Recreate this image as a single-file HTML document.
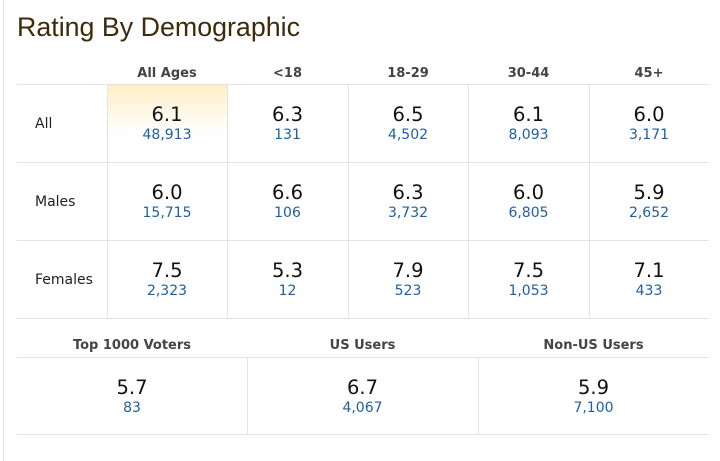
<!DOCTYPE html>
<html><head><meta charset="utf-8"><style>
body{margin:0;width:720px;height:461px;background:#fff;position:relative;overflow:hidden;font-family:"Liberation Sans",sans-serif}
.a{position:absolute}
.vb{position:absolute;left:3px;top:0;width:1px;height:461px;background:#e6e6e6}
.t{left:17px;top:12px;font-size:26.8px;color:#3f2a0a}
.h{font-family:"DejaVu Sans",sans-serif;font-weight:bold;font-size:13px;color:#444;text-align:center}
.hl{height:1px;background:#e3e3e3}
.vl{width:1px;background:#e3e3e3}
.c{text-align:center;font-family:"DejaVu Sans",sans-serif}
.r{font-size:19.5px;color:#111;line-height:22px}
.n{font-size:14px;color:#1f5fa0;line-height:19px}
.lb{font-family:"DejaVu Sans",sans-serif;font-size:14px;color:#222}
</style></head><body>
<div class="vb"></div>
<div class="a t">Rating By Demographic</div>
<div class="a" style="left:108px;top:85px;width:119px;height:50px;background:linear-gradient(#fdefc8,#fff)"></div>
<div class="a h" style="left:107px;top:66px;width:120px">All Ages</div>
<div class="a h" style="left:227px;top:66px;width:121px">&lt;18</div>
<div class="a h" style="left:348px;top:66px;width:120px">18-29</div>
<div class="a h" style="left:468px;top:66px;width:121px">30-44</div>
<div class="a h" style="left:589px;top:66px;width:120px">45+</div>
<div class="a hl" style="left:17px;top:84px;width:692px"></div>
<div class="a hl" style="left:17px;top:162px;width:692px"></div>
<div class="a hl" style="left:17px;top:240px;width:692px"></div>
<div class="a hl" style="left:17px;top:318px;width:692px"></div>
<div class="a vl" style="left:107px;top:84px;height:234px"></div>
<div class="a vl" style="left:227px;top:84px;height:234px"></div>
<div class="a vl" style="left:348px;top:84px;height:234px"></div>
<div class="a vl" style="left:468px;top:84px;height:234px"></div>
<div class="a vl" style="left:589px;top:84px;height:234px"></div>
<div class="a lb" style="left:35px;top:116px">All</div>
<div class="a lb" style="left:35px;top:194px">Males</div>
<div class="a lb" style="left:35px;top:272px">Females</div>

<div class="a c" style="left:107px;top:104px;width:120px"><div class="r">6.1</div><div class="n">48,913</div></div>
<div class="a c" style="left:227px;top:104px;width:121px"><div class="r">6.3</div><div class="n">131</div></div>
<div class="a c" style="left:348px;top:104px;width:120px"><div class="r">6.5</div><div class="n">4,502</div></div>
<div class="a c" style="left:468px;top:104px;width:121px"><div class="r">6.1</div><div class="n">8,093</div></div>
<div class="a c" style="left:589px;top:104px;width:120px"><div class="r">6.0</div><div class="n">3,171</div></div>

<div class="a c" style="left:107px;top:182px;width:120px"><div class="r">6.0</div><div class="n">15,715</div></div>
<div class="a c" style="left:227px;top:182px;width:121px"><div class="r">6.6</div><div class="n">106</div></div>
<div class="a c" style="left:348px;top:182px;width:120px"><div class="r">6.3</div><div class="n">3,732</div></div>
<div class="a c" style="left:468px;top:182px;width:121px"><div class="r">6.0</div><div class="n">6,805</div></div>
<div class="a c" style="left:589px;top:182px;width:120px"><div class="r">5.9</div><div class="n">2,652</div></div>

<div class="a c" style="left:107px;top:260px;width:120px"><div class="r">7.5</div><div class="n">2,323</div></div>
<div class="a c" style="left:227px;top:260px;width:121px"><div class="r">5.3</div><div class="n">12</div></div>
<div class="a c" style="left:348px;top:260px;width:120px"><div class="r">7.9</div><div class="n">523</div></div>
<div class="a c" style="left:468px;top:260px;width:121px"><div class="r">7.5</div><div class="n">1,053</div></div>
<div class="a c" style="left:589px;top:260px;width:120px"><div class="r">7.1</div><div class="n">433</div></div>

<div class="a h" style="left:17px;top:338px;width:230px">Top 1000 Voters</div>
<div class="a h" style="left:247px;top:338px;width:231px">US Users</div>
<div class="a h" style="left:478px;top:338px;width:231px">Non-US Users</div>
<div class="a hl" style="left:17px;top:357px;width:692px"></div>
<div class="a hl" style="left:17px;top:434px;width:692px"></div>
<div class="a vl" style="left:247px;top:357px;height:77px"></div>
<div class="a vl" style="left:478px;top:357px;height:77px"></div>
<div class="a c" style="left:17px;top:377px;width:230px"><div class="r">5.7</div><div class="n">83</div></div>
<div class="a c" style="left:247px;top:377px;width:231px"><div class="r">6.7</div><div class="n">4,067</div></div>
<div class="a c" style="left:478px;top:377px;width:231px"><div class="r">5.9</div><div class="n">7,100</div></div>
</body></html>
